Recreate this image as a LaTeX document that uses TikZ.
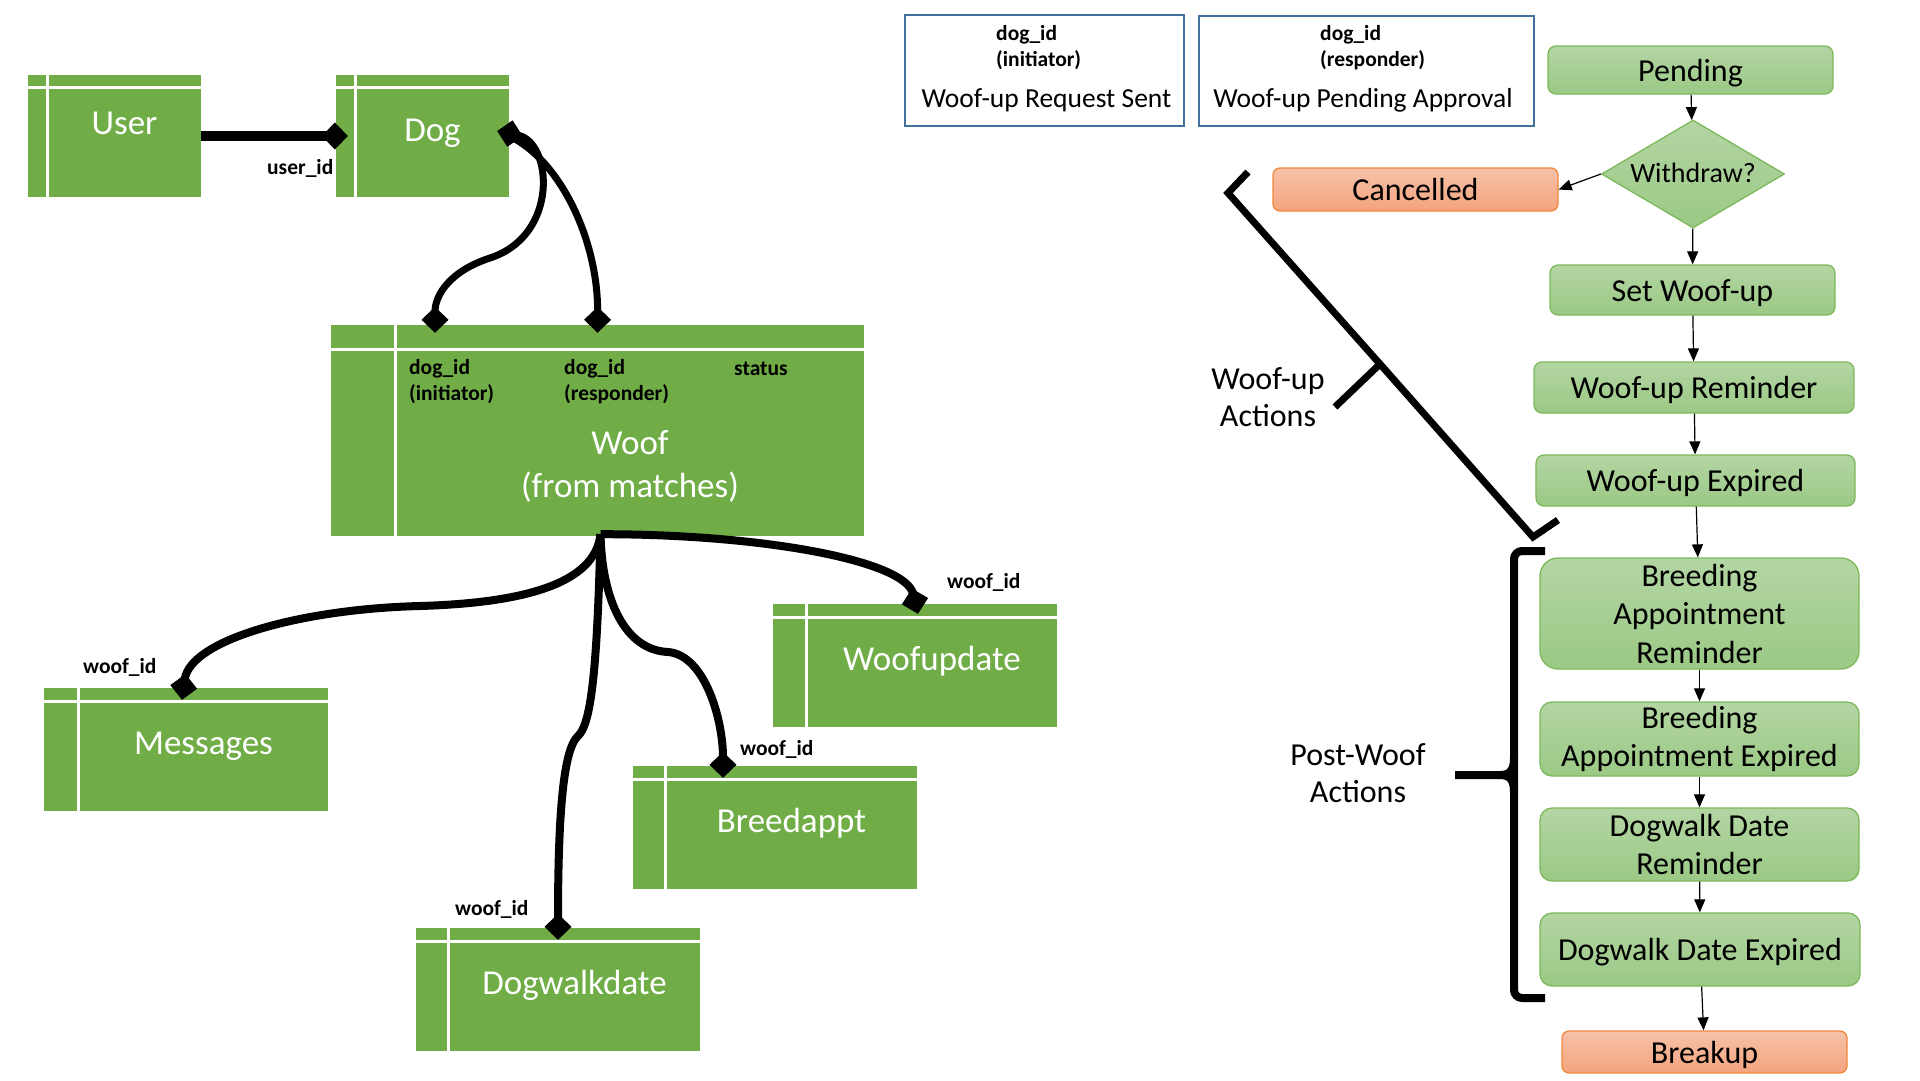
\documentclass[tikz,border=0pt]{standalone}
\usepackage{fontspec}
\setmainfont{Carlito}
\usetikzlibrary{arrows.meta,shapes.geometric}

\definecolor{entgreen}{HTML}{70AD47}
\definecolor{hdrblue}{HTML}{41719C}
\definecolor{flowtop}{HTML}{B3D5A3}
\definecolor{flowbot}{HTML}{9BC985}
\definecolor{flowline}{HTML}{7DB95A}
\definecolor{endtop}{HTML}{F6C1A9}
\definecolor{endbot}{HTML}{F4A47D}
\definecolor{endline}{HTML}{F0883C}

\tikzset{
  dia/.tip={Diamond[length=26pt,width=27pt]},
  entity/.style={fill=entgreen, inner sep=0pt},
  enttext/.style={text=white, inner sep=0pt, font=\fontsize{35}{43}\selectfont},
  keylbl/.style={inner sep=0pt, anchor=base west, font=\bfseries\fontsize{21.5}{26}\selectfont},
  hdrbox/.style={draw=hdrblue, line width=2pt, fill=white, inner sep=0pt},
  hdrtext/.style={inner sep=0pt, anchor=base, font=\fontsize{27.5}{33}\selectfont},
  strip/.style={white, line width=3pt},
  rel/.style={line width=8pt},
  flowtext/.style={inner sep=0pt, font=\fontsize{32}{38.5}\selectfont},
  oneline/.style={text height=22pt, text depth=0pt},
  flowbox/.style={flowtext, draw=flowline, line width=1.3pt, top color=flowtop, bottom color=flowbot, rounded corners=8pt, align=center},
  endbox/.style={flowbox, oneline, draw=endline, top color=endtop, bottom color=endbot},
  decision/.style={shape=diamond, draw=flowline, line width=1.3pt, top color=flowtop, bottom color=flowbot, inner sep=0pt},
  flow/.style={-{Triangle[length=13pt,width=11pt]}, line width=1.2pt},
  brace/.style={line width=7pt},
  side/.style={inner sep=0pt, align=center, font=\fontsize{32}{37}\selectfont}
}

\begin{document}
\begin{tikzpicture}[x=1pt,y=-1pt]
	\useasboundingbox (0,0) rectangle (1920,1080);

	% tables
	\node[entity, minimum width=173pt, minimum height=122pt] (user) at (114.5,136) {};
	\node[entity, minimum width=173pt, minimum height=122pt] (dog) at (422.5,136) {};
	\node[entity, minimum width=533pt, minimum height=211pt] (woof) at (597.5,430.5) {};
	\node[entity, minimum width=284pt, minimum height=123pt] (messages) at (186,749.5) {};
	\node[entity, minimum width=284pt, minimum height=123pt] (woofupdate) at (915,665.5) {};
	\node[entity, minimum width=284pt, minimum height=123pt] (breedappt) at (775,827.5) {};
	\node[entity, minimum width=284pt, minimum height=123pt] (dogwalkdate) at (558,989.5) {};

	\foreach \e/\s/\h in {user/20/13, dog/20/13, woof/65/25, messages/35/14, woofupdate/34/14, breedappt/33/14, dogwalkdate/33/14}{
		\draw[strip] ([xshift=\s pt]\e.north west) -- ([xshift=\s pt]\e.south west);
		\draw[strip] ([yshift=-\h pt]\e.north west) -- ([yshift=-\h pt]\e.north east);
	}

	\node[enttext, anchor=base] (user-t) at (124.5,134) {User};
	\node[enttext, anchor=base] (dog-t) at (432.5,141) {Dog};
	\node[enttext, align=center] (woof-t) at (630,466.5) {Woof\\(from matches)};
	\node[enttext, anchor=base] (messages-t) at (203.5,754) {Messages};
	\node[enttext, anchor=base] (woofupdate-t) at (932,670) {Woofupdate};
	\node[enttext, anchor=base] (breedappt-t) at (791.5,832) {Breedappt};
	\node[enttext, anchor=base] (dogwalkdate-t) at (574.5,994) {Dogwalkdate};

	% keys
	\node[keylbl] (k-user) at (267,174) {user\_id};
	\node[keylbl] (k-init1) at (409,374) {dog\_id};
	\node[keylbl] (k-init2) at (409,400) {(initiator)};
	\node[keylbl] (k-resp1) at (564,374) {dog\_id};
	\node[keylbl] (k-resp2) at (564,400) {(responder)};
	\node[keylbl] (k-status) at (734,375) {status};
	\node[keylbl] (k-msg) at (83,673) {woof\_id};
	\node[keylbl] (k-upd) at (947,588) {woof\_id};
	\node[keylbl] (k-appt) at (740,755) {woof\_id};
	\node[keylbl] (k-walk) at (455,915) {woof\_id};

	% relations
	\draw[rel, line width=10pt, -dia] (user.east) -- ([xshift=12pt]dog.west);

	\coordinate (dogport) at ([xshift=-12pt,yshift=5pt]dog.east);
	\draw[rel, line width=7pt, dia-dia] (dogport) .. controls (552,142) and (560,235) .. (490,258) .. controls (450,271) and (435,295) .. ([xshift=-162.5pt,yshift=-8pt]woof.north);
	\draw[rel, line width=7pt, -dia] (dog.east) .. controls (560,160) and (598,240) .. ([yshift=-8pt]woof.north);

	\coordinate (woofport) at ([xshift=3pt,yshift=2pt]woof.south);
	\draw[rel, -dia] (woofport) .. controls (595,585) and (520,603) .. (420,606) .. controls (300,609) and (190,640) .. ([xshift=-4pt,yshift=-12pt]messages.north);
	\draw[rel, -dia] (woofport) .. controls (760,534) and (905,560) .. ([xshift=3pt,yshift=-10pt]woofupdate.north);
	\draw[rel, -dia] (woofport) .. controls (602,600) and (625,650) .. (668,652) .. controls (705,655) and (723,720) .. ([xshift=-52pt,yshift=-12pt]breedappt.north);
	\draw[rel, -dia] (woofport) .. controls (597,680) and (590,725) .. (578,736) .. controls (565,748) and (558,800) .. ([yshift=-12pt]dogwalkdate.north);

	% status legend
	\node[hdrbox, minimum width=279pt, minimum height=111pt] (sent) at (1044.5,70.5) {};
	\node[hdrbox, minimum width=335pt, minimum height=110pt] (approval) at (1366.5,71) {};
	\node[keylbl] (sent-k1) at (996,40) {dog\_id};
	\node[keylbl] (sent-k2) at (996,66) {(initiator)};
	\node[hdrtext] (sent-t) at (1046.5,107) {Woof-up Request Sent};
	\node[keylbl] (approval-k1) at (1320,40) {dog\_id};
	\node[keylbl] (approval-k2) at (1320,66) {(responder)};
	\node[hdrtext] (approval-t) at (1363,107) {Woof-up Pending Approval};

	% status flow
	\node[flowbox, oneline, minimum width=285pt, minimum height=48pt] (pending) at (1690.5,70) {Pending};
	\node[decision, minimum width=183pt, minimum height=108pt, label={[flowtext, text height=16pt, text depth=0pt, font=\fontsize{28}{34}\selectfont]center:Withdraw?}] (withdraw) at (1693,174) {};
	\node[endbox, minimum width=285pt, minimum height=43pt, rounded corners=7pt] (cancelled) at (1415.5,189.5) {Cancelled};
	\node[flowbox, oneline, minimum width=285pt, minimum height=50pt] (setwoof) at (1692.5,290) {Set Woof-up};
	\node[flowbox, oneline, minimum width=320pt, minimum height=51pt] (reminder) at (1694,387.5) {Woof-up Reminder};
	\node[flowbox, oneline, minimum width=319pt, minimum height=51pt] (expired) at (1695.5,480.5) {Woof-up Expired};
	\node[flowbox, minimum width=319pt, minimum height=111pt, rounded corners=18pt] (apptrem) at (1699.5,613.5) {Breeding\\Appointment\\Reminder};
	\node[flowbox, minimum width=319pt, minimum height=74pt, rounded corners=12pt] (apptexp) at (1699.5,739) {Breeding\\Appointment Expired};
	\node[flowbox, minimum width=319pt, minimum height=73pt, rounded corners=12pt] (walkrem) at (1699.5,844.5) {Dogwalk Date\\Reminder};
	\node[flowbox, oneline, minimum width=320pt, minimum height=73pt, rounded corners=12pt] (walkexp) at (1700,949.5) {Dogwalk Date Expired};
	\node[endbox, minimum width=285pt, minimum height=42pt, rounded corners=7pt] (breakup) at (1704.5,1052) {Breakup};

	\path[flow] (pending) edge (withdraw);
	\path[flow] (withdraw.west) edge (cancelled.east);
	\path[flow] (withdraw) edge (setwoof);
	\path[flow] (setwoof) edge (reminder);
	\path[flow] (reminder) edge (expired);
	\path[flow] (expired) edge (apptrem);
	\path[flow] (apptrem) edge (apptexp);
	\path[flow] (apptexp) edge (walkrem);
	\path[flow] (walkrem) edge (walkexp);
	\path[flow] (walkexp) edge (breakup);

	% brackets
	\draw[brace] (1248,172) -- (1228,193) -- (1380,364) -- (1533,537) -- (1558,520);
	\draw[brace] (1380,364) -- (1335,407);
	\node[side] (upacts) at (1268,397) {Woof-up\\Actions};

	\draw[brace, line width=8pt, rounded corners=8pt] (1545,551) -- (1514,551) -- (1514,998) -- (1545,998);
	\draw[brace, line width=8pt] (1455,775) -- (1500,775) .. controls (1510,775) and (1514,770) .. (1514,758);
	\draw[brace, line width=8pt] (1500,775) .. controls (1510,775) and (1514,780) .. (1514,792);
	\node[side] (postacts) at (1358,773) {Post-Woof\\Actions};
\end{tikzpicture}
\end{document}
